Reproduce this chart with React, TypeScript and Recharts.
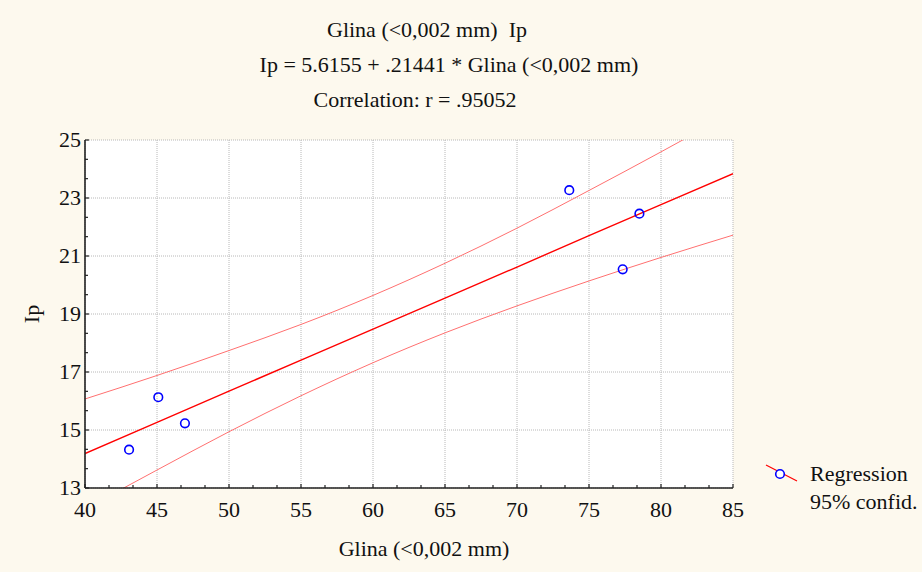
import React from 'react';
import { ComposedChart, Line, Scatter, XAxis, YAxis, CartesianGrid } from 'recharts';

// Observed data points
const glina = [43.06, 45.09, 46.94, 73.63, 78.5, 77.34];
const ip = [14.32, 16.13, 15.23, 23.27, 22.46, 20.54];

// Regression line and 95% confidence band
const fitX = [40, 45, 50, 55, 60, 65, 70, 75, 80, 85];
const regression = [14.19, 15.26, 16.34, 17.41, 18.48, 19.55, 20.62, 21.7, 22.77, 23.84];
const upper95 = [16.07, 16.88, 17.74, 18.64, 19.64, 20.75, 21.96, 23.26, 24.59, 25.96];
const lower95 = [12.28, 13.62, 14.94, 16.18, 17.32, 18.35, 19.28, 20.14, 20.95, 21.72];

// Tick labels
const xTicks = [40, 45, 50, 55, 60, 65, 70, 75, 80, 85];
const yTicks = [13, 15, 17, 19, 21, 23, 25];

const titleLines = ['Glina (<0,002 mm)  Ip', 'Ip = 5.6155 + .21441 * Glina (<0,002 mm)', 'Correlation: r = .95052'];
const xLabel = 'Glina (<0,002 mm)';
const yLabel = 'Ip';
const legendItems = ['Regression', '95% confid.'];

const FONT = '"Liberation Serif", "Times New Roman", serif';
const FS = 22;
const BG = '#FDF9EE';

const points = glina.map((x, i) => ({ x, y: ip[i] }));
const fitData = fitX.map((x, i) => ({ x, reg: regression[i], up: upper95[i], lo: lower95[i] }));

function withMinor(majors: number[], parts: number): number[] {
  const out: number[] = [];
  for (let i = 0; i < majors.length; i++) {
    out.push(majors[i]);
    if (i < majors.length - 1) {
      for (let k = 1; k < parts; k++) out.push(majors[i] + ((majors[i + 1] - majors[i]) * k) / parts);
    }
  }
  return out;
}
const xAll = withMinor(xTicks, 3);
const yAll = withMinor(yTicks, 3);
const isMajor = (arr: number[], v: number) => arr.some((m) => Math.abs(m - v) < 1e-6);

const makeTick = (side: 'bottom' | 'top' | 'left' | 'right', majors: number[]) => (props: any) => {
  const { x, y, payload } = props;
  const v = payload.value as number;
  const major = isMajor(majors, v);
  const len = major ? 4 : 3;
  let line;
  let label = null;
  if (side === 'bottom') {
    line = <line x1={x} y1={y} x2={x} y2={y - len} stroke="#222" strokeWidth={1.2} />;
    if (major)
      label = (
        <text x={x} y={y + 29} textAnchor="middle" fontFamily={FONT} fontSize={FS} fill="#111">
          {v}
        </text>
      );
  } else if (side === 'top') {
    line = <line x1={x} y1={y} x2={x} y2={y + len} stroke="#222" strokeWidth={1.2} />;
  } else if (side === 'left') {
    line = <line x1={x} y1={y} x2={x + len} y2={y} stroke="#222" strokeWidth={1.2} />;
    if (major)
      label = (
        <text x={x - 4} y={y + 7} textAnchor="end" fontFamily={FONT} fontSize={FS} fill="#111">
          {v}
        </text>
      );
  } else {
    line = <line x1={x} y1={y} x2={x - len} y2={y} stroke="#222" strokeWidth={1.2} />;
  }
  return (
    <g>
      {line}
      {label}
    </g>
  );
};

const renderCircle = (props: any) => (
  <circle cx={props.cx} cy={props.cy} r={4.3} fill="none" stroke="#0000ff" strokeWidth={1.6} />
);

export default function App() {
  return (
    <div style={{ position: 'absolute', left: 0, top: 0, width: 922, height: 572, background: BG }}>
      <ComposedChart
        width={922}
        height={572}
        margin={{ top: 140, right: 189, bottom: 44, left: 25 }}
      >
        <CartesianGrid
          xAxisId="b"
          yAxisId="l"
          fill="#ffffff"
          stroke="#b8b8b8"
          strokeDasharray="1 1"
          verticalValues={xTicks}
          horizontalValues={yTicks}
        />
        <XAxis
          xAxisId="b"
          dataKey="x"
          type="number"
          domain={[40, 85]}
          ticks={xAll}
          interval={0}
          allowDataOverflow
          height={40}
          tickSize={0}
          tickMargin={0}
          tickFormatter={() => ''}
          tick={makeTick('bottom', xTicks)}
          axisLine={{ stroke: '#222', strokeWidth: 1.6 }}
          tickLine={false}
        />
        <XAxis
          xAxisId="t"
          orientation="top"
          dataKey="x"
          type="number"
          domain={[40, 85]}
          ticks={xAll}
          interval={0}
          allowDataOverflow
          height={0}
          tickSize={0}
          tickMargin={0}
          tickFormatter={() => ''}
          tick={makeTick('top', xTicks)}
          axisLine={{ stroke: '#222', strokeWidth: 1.4 }}
          tickLine={false}
        />
        <YAxis
          yAxisId="l"
          type="number"
          domain={[13, 25]}
          ticks={yAll}
          interval={0}
          allowDataOverflow
          width={60}
          tickSize={0}
          tickMargin={0}
          tickFormatter={() => ''}
          tick={makeTick('left', yTicks)}
          axisLine={{ stroke: '#222', strokeWidth: 1.6 }}
          tickLine={false}
        />
        <YAxis
          yAxisId="r"
          orientation="right"
          type="number"
          domain={[13, 25]}
          ticks={yAll}
          interval={0}
          allowDataOverflow
          width={0}
          tickSize={0}
          tickMargin={0}
          tickFormatter={() => ''}
          tick={makeTick('right', yTicks)}
          axisLine={{ stroke: '#222', strokeWidth: 1.6 }}
          tickLine={false}
        />
        <Line
          xAxisId="b"
          yAxisId="l"
          data={fitData}
          dataKey="up"
          type="monotone"
          stroke="#ff7070"
          strokeWidth={1}
          dot={false}
          isAnimationActive={false}
        />
        <Line
          xAxisId="b"
          yAxisId="l"
          data={fitData}
          dataKey="lo"
          type="monotone"
          stroke="#ff7070"
          strokeWidth={1}
          dot={false}
          isAnimationActive={false}
        />
        <Line
          xAxisId="b"
          yAxisId="l"
          data={fitData}
          dataKey="reg"
          type="linear"
          stroke="#ff0000"
          strokeWidth={1.4}
          dot={false}
          isAnimationActive={false}
        />
        <Scatter
          xAxisId="b"
          yAxisId="l"
          data={points}
          dataKey="y"
          shape={renderCircle}
          isAnimationActive={false}
        />
      </ComposedChart>
      <svg
        width={922}
        height={572}
        style={{ position: 'absolute', left: 0, top: 0, pointerEvents: 'none' }}
        fontFamily={FONT}
        fontSize={FS}
        fill="#111"
      >
        <text x={427} y={37} textAnchor="middle" style={{ whiteSpace: 'pre' }}>
          {titleLines[0]}
        </text>
        <text x={449} y={72} textAnchor="middle" style={{ whiteSpace: 'pre' }}>
          {titleLines[1]}
        </text>
        <text x={415} y={107} textAnchor="middle" style={{ whiteSpace: 'pre' }}>
          {titleLines[2]}
        </text>
        <text x={424} y={556} textAnchor="middle">
          {xLabel}
        </text>
        <text x={31} y={314} textAnchor="middle" dominantBaseline="central" transform="rotate(-90 31 314)">
          {yLabel}
        </text>
        <line x1={766} y1={465} x2={797} y2={481} stroke="#ff0000" strokeWidth={1.2} />
        <circle cx={780} cy={474} r={4.3} fill="#ffffff" stroke="#0000ff" strokeWidth={1.6} />
        <text x={810} y={481}>{legendItems[0]}</text>
        <text x={810} y={509}>{legendItems[1]}</text>
      </svg>
    </div>
  );
}
